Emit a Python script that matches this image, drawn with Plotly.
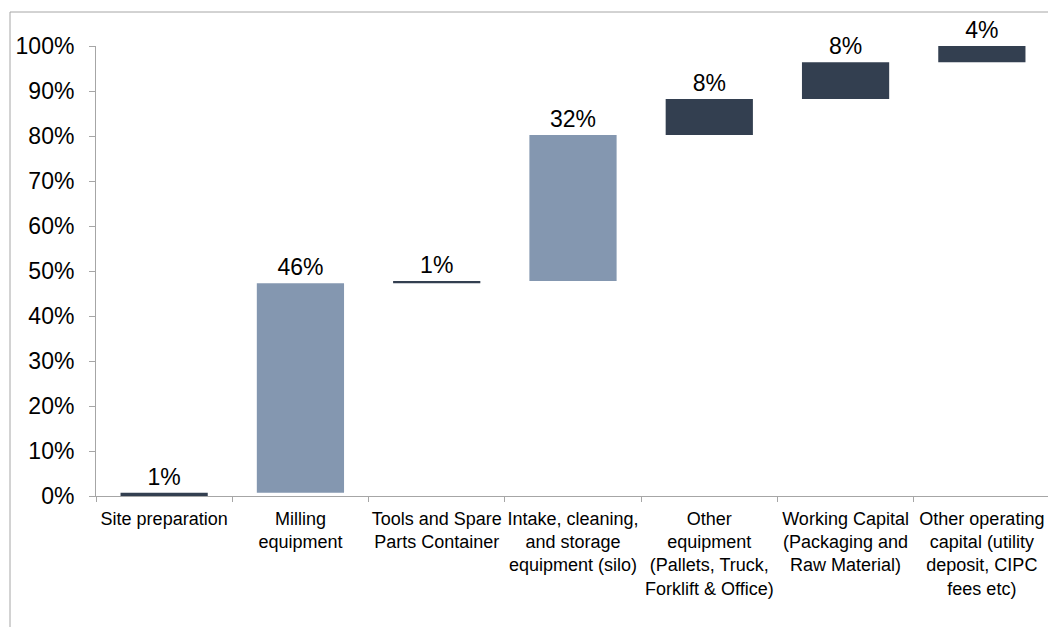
import plotly.graph_objects as go

categories = [
    "Site preparation",
    "Milling<br>equipment",
    "Tools and Spare<br>Parts Container",
    "Intake, cleaning,<br>and storage<br>equipment (silo)",
    "Other<br>equipment<br>(Pallets, Truck,<br>Forklift & Office)",
    "Working Capital<br>(Packaging and<br>Raw Material)",
    "Other operating<br>capital (utility<br>deposit, CIPC<br>fees etc)",
]
shares = [0.007, 0.466, 0.005, 0.324, 0.080, 0.082, 0.036]
labels = ["1%", "46%", "1%", "32%", "8%", "8%", "4%"]
highlight = [False, True, False, True, False, False, False]

LIGHT = "#8497B0"
DARK = "#333F50"
FONT = "Liberation Sans, Arial, sans-serif"

bases = []
running = 0.0
for v in shares:
    bases.append(running)
    running += v
colors = [LIGHT if h else DARK for h in highlight]

fig = go.Figure(
    go.Bar(
        x=categories,
        y=shares,
        base=bases,
        marker=dict(color=colors, line=dict(width=0)),
        text=labels,
        textposition="outside",
        textfont=dict(size=23, color="#000000", family=FONT),
        constraintext="none",
        cliponaxis=False,
        hoverinfo="skip",
    )
)

W, H = 1048, 619
ML, MR, MT, MB = 88, 6, 38, 131
pw = W - ML - MR
ph = H - MT - MB
bx = (2 - ML) / pw
by = 1 + (MT - 4) / ph

fig.update_layout(
    width=W,
    height=H,
    margin=dict(l=ML, r=MR, t=MT, b=MB),
    paper_bgcolor="white",
    plot_bgcolor="white",
    bargap=0.36,
    showlegend=False,
    font=dict(family=FONT, color="#000000"),
    shapes=[
        dict(type="line", xref="paper", yref="paper", x0=bx, x1=bx, y0=by, y1=-2,
             line=dict(color="#A6A6A6", width=1)),
        dict(type="line", xref="paper", yref="paper", x0=bx, x1=1.2, y0=by, y1=by,
             line=dict(color="#A6A6A6", width=1)),
    ],
)

fig.update_xaxes(
    type="category",
    showline=True,
    linecolor="#A6A6A6",
    linewidth=1,
    ticks="outside",
    tickson="boundaries",
    ticklen=5,
    tickcolor="#A6A6A6",
    showgrid=False,
    tickfont=dict(size=18, color="#000000"),
    tickangle=0,
    ticklabelstandoff=6,
)
fig.update_yaxes(
    range=[0, 1],
    dtick=0.1,
    tickformat=".0%",
    showline=True,
    linecolor="#A6A6A6",
    linewidth=1,
    ticks="outside",
    ticklen=6,
    tickcolor="#A6A6A6",
    showgrid=False,
    zeroline=False,
    tickfont=dict(size=23, color="#000000"),
    ticklabelstandoff=10,
)

fig.write_html("out.html")
